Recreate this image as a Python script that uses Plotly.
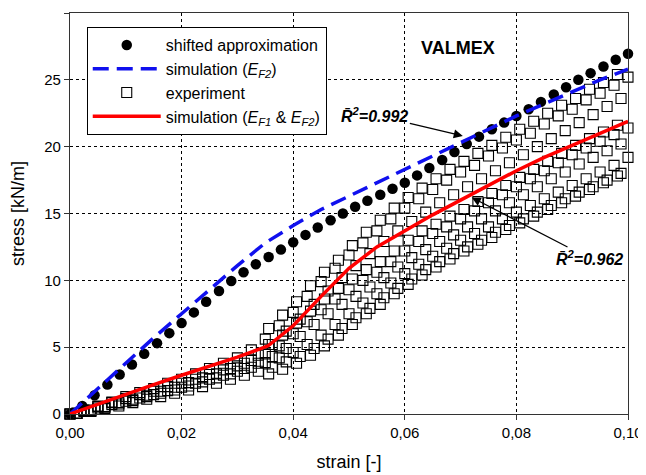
import plotly.graph_objects as go

# ---------------- data ----------------
approx_strain = [0.0, 0.0022, 0.0044, 0.0067, 0.0089, 0.0111, 0.0133, 0.0156, 0.0178, 0.0200,
                 0.0222, 0.0244, 0.0267, 0.0289, 0.0311, 0.0333, 0.0356, 0.0378, 0.0400, 0.0422,
                 0.0444, 0.0467, 0.0489, 0.0511, 0.0533, 0.0556, 0.0578, 0.0600, 0.0622, 0.0644,
                 0.0667, 0.0689, 0.0711, 0.0733, 0.0756, 0.0778, 0.0800, 0.0822, 0.0844, 0.0867,
                 0.0889, 0.0911, 0.0933, 0.0956, 0.0978, 0.1000]
approx_stress = [0.0, 0.6, 1.4, 2.2, 2.95, 3.7, 4.5, 5.3, 6.05, 6.8,
                 7.6, 8.4, 9.2, 9.95, 10.6, 11.2, 11.75, 12.3, 12.85, 13.4,
                 13.95, 14.5, 15.0, 15.5, 15.95, 16.4, 16.85, 17.3, 17.85, 18.4,
                 19.0, 19.6, 20.2, 20.75, 21.3, 21.8, 22.3, 22.8, 23.35, 23.9,
                 24.45, 25.0, 25.5, 26.0, 26.5, 26.95]

sim_ef2_strain = [0.0, 0.005, 0.01, 0.015, 0.02, 0.025, 0.03, 0.035, 0.04, 0.045, 0.05,
                  0.055, 0.06, 0.065, 0.07, 0.075, 0.08, 0.085, 0.09, 0.095, 0.1]
sim_ef2_stress = [0.0, 1.9, 3.8, 5.7, 7.5, 9.3, 11.1, 12.8, 14.1, 15.3, 16.3,
                  17.3, 18.3, 19.3, 20.3, 21.3, 22.3, 23.2, 24.1, 25.0, 25.8]

sim_both_strain = [0.0, 0.005, 0.01, 0.015, 0.02, 0.025, 0.03, 0.0355, 0.04, 0.045, 0.05,
                   0.055, 0.06, 0.065, 0.07, 0.075, 0.08, 0.085, 0.09, 0.095, 0.1]
sim_both_stress = [0.0, 0.75, 1.5, 2.2, 2.9, 3.55, 4.25, 5.1, 6.6, 8.8, 10.9,
                   12.5, 13.7, 14.9, 16.0, 17.1, 18.2, 19.2, 20.1, 21.0, 21.9]

exp_strain_a = [0.0, 0.0025, 0.005, 0.0075, 0.01, 0.0125, 0.015, 0.0175, 0.02, 0.0225,
                0.025, 0.0275, 0.03, 0.0325, 0.035, 0.0375, 0.04, 0.0425, 0.045, 0.0475,
                0.05, 0.0525, 0.055, 0.0575, 0.06, 0.0625, 0.065, 0.0675, 0.07, 0.0725,
                0.075, 0.0775, 0.08, 0.0825, 0.085, 0.0875, 0.09, 0.0925, 0.095, 0.0975, 0.1]
exp_strain_b = [0.00125, 0.00375, 0.00625, 0.00875, 0.01125, 0.01375, 0.01625, 0.01875,
                0.02125, 0.02375, 0.02625, 0.02875, 0.03125, 0.03375, 0.03625, 0.03875,
                0.04125, 0.04375, 0.04625, 0.04875, 0.05125, 0.05375, 0.05625, 0.05875,
                0.06125, 0.06375, 0.06625, 0.06875, 0.07125, 0.07375, 0.07625, 0.07875,
                0.08125, 0.08375, 0.08625, 0.08875, 0.09125, 0.09375, 0.09625, 0.09875]
exp_strain_c = [0.0356, 0.0381, 0.0406, 0.0431, 0.0456, 0.0481, 0.0506, 0.0531, 0.0556,
                0.0581, 0.0606, 0.0631, 0.0656, 0.0681, 0.0706, 0.0731, 0.0756, 0.0781,
                0.0806, 0.0831, 0.0856, 0.0881, 0.0906, 0.0931, 0.0956, 0.0981]

exp1_stress_a = [0.0, 0.3, 0.6, 0.9, 1.3, 1.6, 1.9, 2.3, 2.6, 3.0, 3.4, 3.8, 4.2, 4.8, 5.6,
                 6.6, 7.6, 8.8, 9.9, 10.9, 11.9, 12.8, 13.7, 14.6, 15.4, 16.1, 16.8, 17.5,
                 18.1, 18.6, 19.3, 19.9, 20.5, 21.0, 21.7, 22.3, 22.8, 23.5, 24.0, 24.6, 25.2]
exp1_stress_b = [0.05, 0.3, 0.55, 0.85, 1.1, 1.4, 1.7, 2.0, 2.35, 2.7, 3.0, 3.4, 3.8, 4.4,
                 5.2, 6.2, 7.1, 8.2, 9.2, 10.2, 11.1, 12.0, 12.9, 13.7, 14.4, 15.1, 15.8,
                 16.4, 17.0, 17.6, 18.2, 18.8, 19.4, 20.0, 20.6, 21.2, 21.8, 22.4, 23.0, 23.6]
exp1_stress_c = [6.4, 7.4, 8.4, 9.6, 10.6, 11.5, 12.6, 13.6, 14.5, 15.4, 16.2, 16.9, 17.6,
                 18.3, 18.9, 19.5, 20.1, 20.7, 21.3, 21.9, 22.5, 23.1, 23.6, 24.3, 24.8, 25.4]

exp2_stress_a = [0.0, 0.25, 0.55, 0.85, 1.15, 1.45, 1.7, 2.05, 2.3, 2.6, 2.95, 3.3, 3.6, 4.0,
                 4.5, 5.1, 6.0, 6.9, 7.8, 8.6, 9.3, 10.0, 10.6, 11.4, 12.2, 12.9, 13.5, 14.0,
                 14.6, 15.2, 15.8, 16.4, 17.0, 17.6, 18.2, 18.8, 19.4, 19.9, 20.4, 20.9, 21.4]
exp2_stress_b = [0.05, 0.25, 0.5, 0.75, 1.0, 1.3, 1.55, 1.8, 2.1, 2.4, 2.7, 3.0, 3.4, 3.8,
                 4.3, 4.9, 5.8, 6.7, 7.5, 8.2, 8.8, 9.5, 10.2, 11.0, 11.7, 12.3, 12.9, 13.4,
                 14.0, 14.6, 15.2, 15.8, 16.4, 17.0, 17.6, 18.1, 18.7, 19.2, 19.7, 20.2]
exp2_stress_c = [5.2, 5.9, 6.8, 7.7, 8.6, 9.4, 10.1, 10.8, 11.4, 12.2, 13.0, 13.7, 14.2,
                 14.8, 15.3, 15.9, 16.5, 17.1, 17.7, 18.3, 18.9, 19.5, 20.1, 20.6, 21.1, 21.6]

exp3_stress_a = [0.0, 0.2, 0.45, 0.7, 0.95, 1.2, 1.45, 1.75, 2.0, 2.3, 2.6, 2.9, 3.2, 3.5,
                 3.85, 4.2, 4.6, 5.2, 5.9, 6.7, 7.5, 8.3, 9.0, 9.8, 10.5, 11.2, 11.8, 12.4,
                 13.0, 13.5, 14.0, 14.6, 15.1, 15.6, 16.1, 16.6, 17.1, 17.6, 18.1, 18.6, 19.2]
exp3_stress_b = [0.05, 0.2, 0.4, 0.6, 0.85, 1.1, 1.3, 1.55, 1.8, 2.05, 2.3, 2.6, 2.9, 3.2,
                 3.5, 3.9, 4.3, 4.9, 5.6, 6.4, 7.2, 7.9, 8.7, 9.4, 10.1, 10.8, 11.4, 12.0,
                 12.5, 13.0, 13.6, 14.1, 14.6, 15.1, 15.6, 16.1, 16.6, 17.0, 17.5, 18.0]
exp3_stress_c = [3.0, 3.35, 3.8, 4.4, 5.1, 5.9, 6.7, 7.5, 8.2, 9.0, 9.7, 10.4, 11.0, 11.6,
                 12.2, 12.7, 13.2, 13.8, 14.3, 14.8, 15.3, 15.8, 16.3, 16.8, 17.3, 17.8]

x_ticks = [0.0, 0.02, 0.04, 0.06, 0.08, 0.10]
x_tick_text = ["0,00", "0,02", "0,04", "0,06", "0,08", "0,10"]
y_ticks = [0, 5, 10, 15, 20, 25, 30]

# ---------------- figure ----------------
FONT = "Liberation Sans, Arial, sans-serif"

exp_x = (exp_strain_a + exp_strain_b + exp_strain_c) * 3
exp_y = (exp1_stress_a + exp1_stress_b + exp1_stress_c
         + exp2_stress_a + exp2_stress_b + exp2_stress_c
         + exp3_stress_a + exp3_stress_b + exp3_stress_c)

fig = go.Figure()

fig.add_trace(go.Scatter(
    x=exp_x, y=exp_y, mode="markers", name="experiment",
    marker=dict(symbol="square-open", size=10, color="black", line=dict(width=1.1)),
    legendrank=3, cliponaxis=False,
))
fig.add_trace(go.Scatter(
    x=approx_strain, y=approx_stress, mode="markers", name="shifted approximation",
    marker=dict(symbol="circle", size=10.5, color="black"),
    legendrank=1, cliponaxis=False,
))
fig.add_trace(go.Scatter(
    x=sim_ef2_strain, y=sim_ef2_stress, mode="lines",
    name="simulation (<i>E</i><sub><i>F2</i></sub>)",
    line=dict(color="#1010ee", width=3.5, dash="16px,8px"),
    legendrank=2,
))
fig.add_trace(go.Scatter(
    x=sim_both_strain, y=sim_both_stress, mode="lines",
    name="simulation (<i>E</i><sub><i>F1</i></sub> &amp; <i>E</i><sub><i>F2</i></sub>)",
    line=dict(color="#ff0000", width=3.5),
    legendrank=4,
))

fig.add_annotation(x=0.0695, y=27.4, text="<b>VALMEX</b>", showarrow=False,
                   font=dict(size=18, color="black", family=FONT))

# R^2 annotations: text placed at pixel offset, arrow pointing to the curve
fig.add_annotation(x=0.0704, y=20.8, ax=-88, ay=-21,
                   text="<b><i>R\u0304<sup>2</sup>=0.992</i></b>",
                   showarrow=True, arrowhead=2, arrowsize=1.4, arrowwidth=1.3,
                   arrowcolor="black", standoff=0,
                   font=dict(size=16, color="black", family=FONT))
fig.add_annotation(x=0.0720, y=16.2, ax=118, ay=61,
                   text="<b><i>R\u0304<sup>2</sup>=0.962</i></b>",
                   showarrow=True, arrowhead=2, arrowsize=1.4, arrowwidth=1.3,
                   arrowcolor="black", standoff=0,
                   font=dict(size=16, color="black", family=FONT))

axis_common = dict(
    showline=True, linecolor="#333333", linewidth=1.3, mirror=True,
    ticks="outside", ticklen=5, tickcolor="#333333", tickwidth=1,
    showgrid=True, gridcolor="black", griddash="dot", gridwidth=1,
    zeroline=False, automargin=False,
    tickfont=dict(size=15, color="black", family=FONT),
)

fig.update_xaxes(range=[0, 0.1], tickvals=x_ticks, ticktext=x_tick_text,
                 title=dict(text="strain [-]", font=dict(size=18, color="black", family=FONT)),
                 **axis_common)
fig.update_yaxes(range=[0, 30], tickvals=y_ticks,
                 title=dict(text="stress [kN/m]", font=dict(size=18, color="black", family=FONT)),
                 **axis_common)

# The page body has an 8px default margin, so the figure is sized 8px smaller
fig.update_layout(
    width=638, height=467,
    margin=dict(l=62, r=18, t=5, b=61),
    paper_bgcolor="white", plot_bgcolor="white",
    font=dict(family=FONT, color="black"),
    showlegend=True,
    legend=dict(x=0.03, y=0.965, xanchor="left", yanchor="top",
                bgcolor="white", bordercolor="black", borderwidth=1,
                font=dict(size=16, color="black", family=FONT),
                traceorder="normal", itemwidth=68, tracegroupgap=0),
)

fig.write_html("out.html")
